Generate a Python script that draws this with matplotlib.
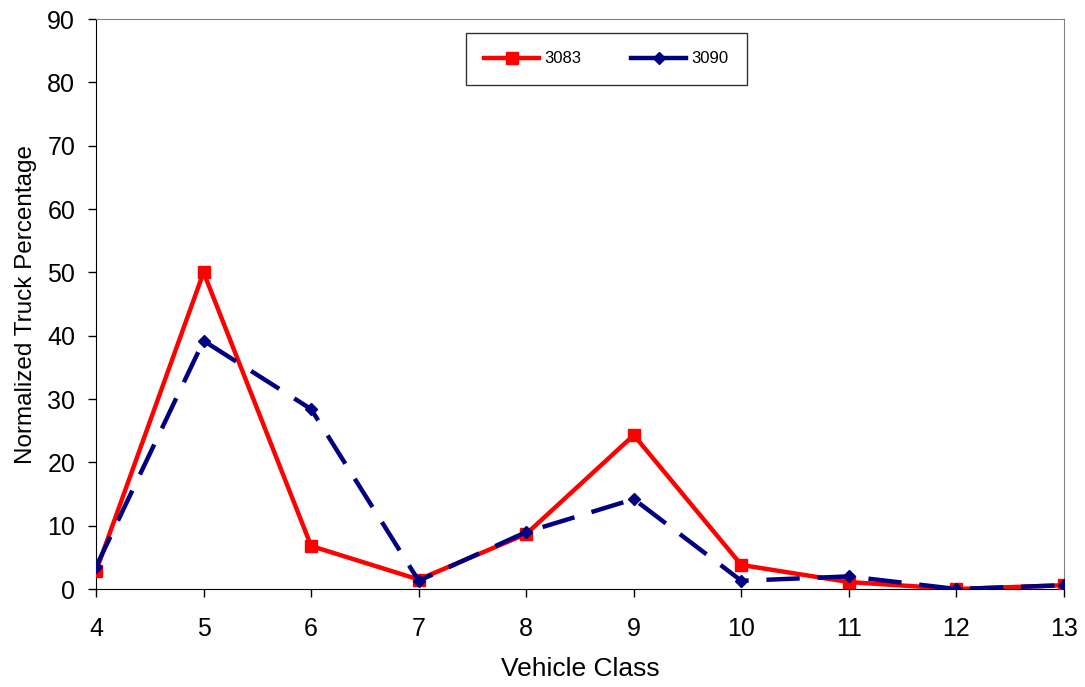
import matplotlib
matplotlib.use('Agg')
import matplotlib.pyplot as plt

plt.rcParams['font.family'] = ['Liberation Sans', 'DejaVu Sans']

vehicle_class = [4, 5, 6, 7, 8, 9, 10, 11, 12, 13]
site_3083 = [2.8, 50.0, 6.8, 1.5, 8.7, 24.3, 3.8, 1.1, 0.0, 0.6]
site_3090 = [3.5, 39.2, 28.4, 1.3, 9.0, 14.2, 1.3, 2.0, 0.0, 0.6]

fig = plt.figure(figsize=(10.85, 6.87), dpi=100)
ax = fig.add_axes([0.0885, 0.1426, 0.8922, 0.8297])

ax.plot(vehicle_class, site_3083, color='#ff0000', lw=3.2, marker='s', ms=8,
        label='3083', zorder=3)
ax.plot(vehicle_class, site_3090, color='#000080', lw=3.2, marker='D', ms=6,
        dashes=(7.5, 4), label='3090', zorder=4)

ax.set_xlim(4, 13)
ax.set_ylim(0, 90)
ax.set_xticks(vehicle_class)
ax.set_yticks(range(0, 91, 10))
ax.tick_params(axis='both', direction='out', length=6, labelsize=18, width=1)
ax.tick_params(axis='x', pad=14)
ax.tick_params(axis='y', pad=9)
ax.set_xlabel('Vehicle Class', fontsize=19, labelpad=12)
ax.set_ylabel('Normalized Truck Percentage', fontsize=17.5, labelpad=7)

ax.spines['top'].set_color('#808080')
ax.spines['right'].set_color('#808080')

leg = ax.legend(loc='center', bbox_to_anchor=(0.527, 0.93), ncol=2, fontsize=12,
                frameon=True, fancybox=False, edgecolor='black',
                handlelength=3.3, handletextpad=0.3, columnspacing=3.0,
                borderpad=1.1, borderaxespad=0)
leg.get_frame().set_linewidth(1)
for line in leg.get_lines():
    line.set_linestyle('-')

fig.savefig('out.png', dpi=100)
